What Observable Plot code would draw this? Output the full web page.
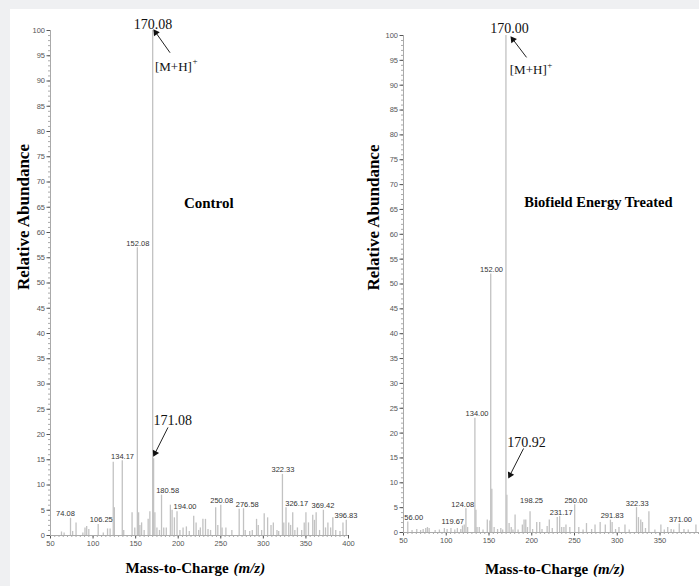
<!DOCTYPE html>
<html><head><meta charset="utf-8">
<script src="https://cdn.jsdelivr.net/npm/d3@7"></script>
<script src="https://cdn.jsdelivr.net/npm/@observablehq/plot@0.6"></script>
<style>
html,body{margin:0;padding:0;background:#eff0f2;}
#wrap{position:relative;width:699px;height:586px;overflow:hidden;}
#paper{position:absolute;left:10px;top:9px;right:0;bottom:0;background:#fff;}
.panel{position:absolute;top:0;}
.panel svg{background:transparent;overflow:visible;}
</style></head><body>
<div id="wrap"><div id="paper"></div><div id="left" class="panel" style="left:0"></div><div id="right" class="panel" style="left:350px"></div></div>
<script>
// ---- Control spectrum (m/z, relative abundance) ----
const controlMz = [62.9,66,73.5,76,80,88,90.5,92.5,95,106,112,117,120,123.7,125,134.3,136,145.8,149,152,153.5,155,157,160,164.7,166.7,170,171.1,172.6,175,178,180.4,183,186,190.8,192.8,195.5,198.6,202,205.7,209.6,213,218.2,221,224,226,229,232,235,238,244,246.5,250,251.5,256,263,271.6,276.7,278.7,284,287,292,294,298,301,305,309,311.7,316,318,322.4,324,326.6,329.8,332,334.5,337,340,345,348,350,353,358,360,362,366,370.5,373,375.8,379,381.6,385,390,393.5,397.4];
const controlAb = [0.7,0.5,3.4,0.8,2.5,0.5,1.5,1.8,1.2,2.2,0.5,1.3,1.3,14.5,5.5,14.8,1,4.5,1.5,57,4.5,2,2.5,1,3.2,4.7,100,15.2,4.5,1.5,1,8,1.5,1.5,6,5,3.5,4.7,1,1.5,1.7,0.8,3.8,2.5,1,1.5,3.2,3.2,1.2,1,5.5,2,6,1.5,1.5,1,5.2,5.3,1,0.8,1,3.2,2,1,4.3,3.5,2,2.5,1,0.8,12.1,2.5,5.5,2.5,2,4.5,1,1.5,1,2.5,4.5,2.5,4,3,4.5,1,5,1.5,2.5,1.5,3.5,1,0.8,2.5,3];
const controlLabels = ["74.08","106.25","134.17","152.08","180.58","194.00","250.08","276.58","322.33","326.17","369.42","396.83"];
const controlLabelAb = [3.4,2.2,14.8,57,8,4.8,6,5.3,12.1,5.5,5,3];

// ---- Biofield Energy Treated spectrum ----
const treatedMz = [55,60,65.5,70,73,76,78,80,87,92,97.8,101,105.5,110,113,117,119,121,123,125,133.5,134.7,136,138.6,143,148,151,152,153.3,156,160,163.8,166,169.8,170.9,173.5,176,178,180.5,184,189,191,193,195,198,201,205.8,209.3,212,218,220.5,224,229.8,232.6,235,237.6,240,244.5,250.2,255,260,264,270,274,280,286,292,294,298,302,309,314,322.5,324.8,327.5,329.5,333,337,344,351,355,359,363,366,372.5,378,383,392];
const treatedAb = [2.1,0.4,0.6,0.4,0.6,0.8,1,0.8,0.4,0.5,0.8,0.6,0.8,0.5,0.8,0.6,1.3,1.5,4.8,1,23,4.5,1,1,0.5,2.5,2.3,52,8.7,1,0.6,0.8,0.5,100,7.5,1.8,1,0.5,3.5,0.5,1.5,2.5,2.5,1,4.2,0.6,2,2,0.6,1.2,2.5,0.8,3,3.2,1,1,1.5,1,5.6,1,0.5,1.8,0.6,1.5,2,1.5,2.5,2,0.6,1,1.5,0.5,5,3,2.5,2,0.8,4.2,0.5,1.5,0.5,1,0.6,0.5,1.7,0.6,0.5,1.5];
const treatedLabels = ["56.00","119.67","124.08","134.00","152.00","198.25","231.17","250.00","291.83","322.33","371.00"];
const treatedLabelAb = [2.1,1.3,4.8,23,52,5.5,3.2,5.6,2.5,5,1.7];

// ---- axis ticks ----
const yTicks = d3.range(0, 101, 5);
const yMinor = d3.range(0, 101, 1);
const controlXTicks = [50,100,150,200,250,300,350,400];
const treatedXTicks = [50,100,150,200,250,300,350];
const xMinor = d3.range(50, 401, 5);

// label placement nudges (m/z units), layout only
const controlShift = [-6.5,3.4,0.4,0.5,7,14,1,4.5,0.7,13,0.6,0.2];
const treatedShift = [6,-12,-4.7,2,1,1.5,3.3,1.6,2.2,1,3];

const serif = "Liberation Serif, Times New Roman, serif";
const sans = "Liberation Sans, Arial, sans-serif";

// arrow = line + filled triangular head; angle computed in pixel space
function arrowMarks(a, kx, ky) {
  const [x1, y1, x2, y2] = a;
  const ddx = (x2 - x1) * kx, ddy = -(y2 - y1) * ky;
  const ang = Math.atan2(ddx, -ddy) * 180 / Math.PI;
  return [
    Plot.link([0], {x1, y1, x2, y2, stroke: "#222", strokeWidth: 1}),
    Plot.dot([0], {x: x2, y: y2, symbol: "triangle", r: 2.6, fill: "#111", stroke: "none", rotate: ang})
  ];
}

function panel(o) {
  const idx = d3.range(o.mz.length);
  const lidx = d3.range(o.labels.length);
  const kx = (o.width - o.ml - o.mr) / (o.xDomain[1] - o.xDomain[0]);
  const ky = (586 - o.mt - o.mb) / 100;
  return Plot.plot({
    width: o.width, height: 586,
    marginLeft: o.ml, marginRight: o.mr, marginTop: o.mt, marginBottom: o.mb,
    x: {domain: o.xDomain, label: null},
    y: {domain: [0, 100], label: null},
    symbol: {type: "identity"},
    style: {background: "transparent", overflow: "visible"},
    marks: [
      Plot.axisY({ticks: yMinor, tickSize: 2, tickFormat: () => "", stroke: "#aaa"}),
      Plot.axisY({ticks: yTicks, tickSize: 3.5, tickPadding: 2, fontSize: 7.5, fontFamily: sans, color: "#555"}),
      Plot.axisX({ticks: xMinor.filter(v => v <= o.xDomain[1]), tickSize: 2, tickFormat: () => "", stroke: "#aaa"}),
      Plot.axisX({ticks: o.xTicks, tickSize: 3.5, tickPadding: 2, fontSize: 7.5, fontFamily: sans, color: "#555"}),
      Plot.ruleX([o.xDomain[0]], {stroke: "#aaa"}),
      Plot.ruleY([0], {stroke: "#aaa"}),
      Plot.ruleX(idx, {x: i => o.mz[i], y1: 0, y2: i => o.ab[i], stroke: "#c2c2c2", strokeWidth: 1.3}),
      Plot.text(lidx, {x: i => parseFloat(o.labels[i]) + o.shift[i], y: i => o.labelAb[i], text: i => o.labels[i],
        lineAnchor: "bottom", dy: -2, fontSize: 7.5, fontFamily: sans, fill: "#333"}),
      // annotations
      Plot.text([o.base], {x: o.baseTxt[0], y: o.baseTxt[1], text: d => d, fontSize: 14, fontFamily: serif, fill: "#111"}),
      ...arrowMarks(o.baseArrow, kx, ky),
      Plot.text(["[M+H]"], {x: o.mh[0], y: o.mh[1], text: d => d, textAnchor: "start", fontSize: 13, fontFamily: serif, fill: "#111"}),
      Plot.text(["+"], {x: o.mh[0], y: o.mh[1], text: d => d, textAnchor: "start", dx: 37.5, dy: -5, fontSize: 9, fontFamily: serif, fill: "#111"}),
      Plot.text([o.title], {x: o.titlePos[0], y: o.titlePos[1], text: d => d, fontSize: o.titleSize, fontWeight: "bold", fontFamily: serif, fill: "#000"}),
      Plot.text([o.iso], {x: o.isoTxt[0], y: o.isoTxt[1], text: d => d, textAnchor: o.isoAnchor, fontSize: 14, fontFamily: serif, fill: "#111"}),
      ...arrowMarks(o.isoArrow, kx, ky),
      // axis titles
      Plot.text(["Relative Abundance"], {frameAnchor: "left", rotate: -90, dx: o.yTitleDx, dy: o.yTitleDy, text: d => d,
        fontSize: 17, fontWeight: "bold", fontFamily: serif, fill: "#000"}),
      Plot.text(["Mass-to-Charge "], {frameAnchor: "bottom", textAnchor: "end", dx: o.xTitleDx, dy: o.xTitleDy, text: d => d,
        fontSize: 15, fontWeight: "bold", fontFamily: serif, fill: "#000"}),
      Plot.text(["(m/z)"], {frameAnchor: "bottom", textAnchor: "start", dx: o.xTitleDx + 1, dy: o.xTitleDy, text: d => d,
        fontSize: 15, fontWeight: "bold", fontStyle: "italic", fontFamily: serif, fill: "#000"})
    ]
  });
}

document.getElementById("left").appendChild(panel({
  width: 350, ml: 50, mr: 2, mt: 30, mb: 51, xDomain: [50, 400], xTicks: controlXTicks,
  mz: controlMz, ab: controlAb, labels: controlLabels, labelAb: controlLabelAb, shift: controlShift,
  base: "170.08", baseTxt: [170.4, 101.2], baseArrow: [190.4, 95.6, 173.6, 99.6],
  mh: [172.7, 92.9], title: "Control", titlePos: [235.9, 65.9], titleSize: 15,
  iso: "171.08", isoTxt: [171, 22.8], isoAnchor: "start", isoArrow: [188, 21.4, 172.8, 16.3],
  yTitleDx: -27, yTitleDy: 7, xTitleDx: 33, xTitleDy: 37
}));
document.getElementById("right").appendChild(panel({
  width: 349, ml: 53, mr: 1, mt: 35, mb: 54, xDomain: [50, 395], xTicks: treatedXTicks,
  mz: treatedMz, ab: treatedAb, labels: treatedLabels, labelAb: treatedLabelAb, shift: treatedShift,
  base: "170.00", baseTxt: [174, 101.4], baseArrow: [193.9, 95.6, 178, 99.2],
  mh: [174.3, 93], title: "Biofield Energy Treated", titlePos: [278, 66.4], titleSize: 14.5,
  iso: "170.92", isoTxt: [193.9, 18.1], isoAnchor: "middle", isoArrow: [190.4, 16.9, 174.7, 11.6],
  yTitleDx: -30, yTitleDy: 6.5, xTitleDx: 41, xTitleDy: 41
}));
</script>
</body></html>
